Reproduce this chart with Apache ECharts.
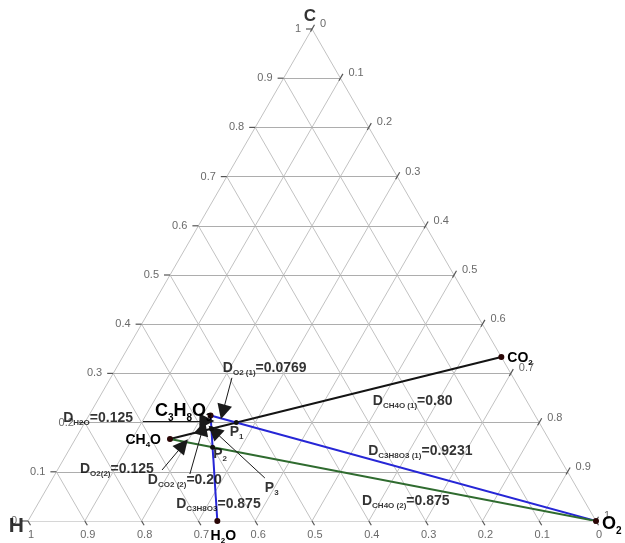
<!DOCTYPE html>
<html>
<head>
<meta charset="utf-8">
<script src="https://cdn.jsdelivr.net/npm/echarts@6/dist/echarts.min.js"></script>
<style>
  html, body { margin: 0; padding: 0; background: #ffffff; }
  #chart { width: 625px; height: 543px; }
</style>
</head>
<body>
<div id="chart"></div>
<script>
// Compounds on the C–H–O diagram, as atom counts per molecule
const species = ['CO2', 'O2', 'H2O', 'C3H8O3', 'CH4O'];
const atomsC = [1, 0, 0, 3, 1];
const atomsH = [0, 0, 2, 8, 4];
const atomsO = [2, 2, 1, 3, 1];

// Tie lines between compounds
const tieFrom = ['CH4O', 'C3H8O3', 'C3H8O3', 'CH4O'];
const tieTo = ['CO2', 'O2', 'H2O', 'O2'];
const tieColor = ['#141414', '#2626d6', '#2626d6', '#2f6b2f'];

// Mixing points, each where two tie lines cross (indices into the tie lines)
const mixNames = ['P1', 'P2', 'P3'];
const mixLineA = [0, 3, 0];
const mixLineB = [1, 2, 2];

// Axis ticks (fractions) and their labels
const tickValues = [0, 0.1, 0.2, 0.3, 0.4, 0.5, 0.6, 0.7, 0.8, 0.9, 1];
const tickLabels = ['0', '0.1', '0.2', '0.3', '0.4', '0.5', '0.6', '0.7', '0.8', '0.9', '1'];

// Annotation texts
const noteTexts = [
  '{m|D}{s|O2 (1)}{m|=0.0769}',
  '{m|D}{s|CH4O (1)}{m|=0.80}',
  '{m|D}{s|H2O}{m|=0.125}',
  '{m|D}{s|O2(2)}{m|=0.125}',
  '{m|D}{s|CO2 (2)}{m|=0.20}',
  '{m|D}{s|C3H8O3}{m|=0.875}',
  '{m|D}{s|C3H8O3 (1)}{m|=0.9231}',
  '{m|D}{s|CH4O (2)}{m|=0.875}',
  '{m|P}{s|1}',
  '{m|P}{s|2}',
  '{m|P}{s|3}'
];
// Where each annotation starts, in diagram coordinates [x, C]
const noteAnchor = [
  [0.343, 0.309], [0.607, 0.242], [0.062, 0.207], [0.0915, 0.104],
  [0.211, 0.081], [0.261, 0.033], [0.599, 0.140], [0.588, 0.039],
  [0.355, 0.179], [0.326, 0.134], [0.417, 0.065]
];
// Leader arrows (tail -> head), diagram coordinates
const arrowTail = [[0.359, 0.291], [0.2025, 0.2033], [0.236, 0.1037], [0.285, 0.0955], [0.417, 0.0874]];
const arrowHead = [[0.343, 0.2215], [0.315, 0.2033], [0.273, 0.1545], [0.308, 0.189], [0.3275, 0.183]];

// ---- ternary helpers: fractions (C, O) -> plane (x, y) ----
function toXY(c, o) { return [o + c / 2, c]; }
function compoundXY(name) {
  const i = species.indexOf(name);
  const n = atomsC[i] + atomsH[i] + atomsO[i];
  return toXY(atomsC[i] / n, atomsO[i] / n);
}
function crossing(a1, a2, b1, b2) {
  const d = (a2[0] - a1[0]) * (b2[1] - b1[1]) - (a2[1] - a1[1]) * (b2[0] - b1[0]);
  const t = ((b1[0] - a1[0]) * (b2[1] - b1[1]) - (b1[1] - a1[1]) * (b2[0] - b1[0])) / d;
  return [a1[0] + t * (a2[0] - a1[0]), a1[1] + t * (a2[1] - a1[1])];
}

const FONT = '"Liberation Sans", Arial, sans-serif';
const levelStyle = { color: '#adadad', width: 1.2, opacity: 1 };

// grid lines of the triangle
const gridSegs = [];
for (let k = 1; k < tickValues.length - 1; k++) {
  const v = tickValues[k];
  gridSegs.push({ coords: [toXY(v, 0), toXY(v, 1 - v)], lineStyle: levelStyle });  // constant C
  gridSegs.push({ coords: [toXY(0, v), toXY(1 - v, v)] });            // constant O
  gridSegs.push({ coords: [toXY(0, 1 - v), toXY(1 - v, 0)] });        // constant H
}
gridSegs.push({ coords: [toXY(0, 0), toXY(0, 1)], lineStyle: levelStyle });  // base H–O
gridSegs.push({ coords: [toXY(0, 1), toXY(1, 0)] });                          // O–C edge
gridSegs.push({ coords: [toXY(1, 0), toXY(0, 0)] });                          // C–H edge

// ticks: side 0 = C (left), 1 = O (right), 2 = H (bottom)
const tickData = [];
tickValues.forEach((v, k) => {
  tickData.push([...toXY(v, 0), 0, k]);
  tickData.push([...toXY(1 - v, v), 1, k]);
  tickData.push([...toXY(0, 1 - v), 2, k]);
});

const tieSegs = tieFrom.map((f, i) => ({
  coords: [compoundXY(f), compoundXY(tieTo[i])],
  lineStyle: { color: tieColor[i], width: 2, opacity: 1 }
}));

const mixPoints = mixNames.map((n, i) => {
  const a = tieSegs[mixLineA[i]].coords, b = tieSegs[mixLineB[i]].coords;
  return { name: n, value: crossing(a[0], a[1], b[0], b[1]) };
});

const rich = {
  m: { fontFamily: FONT, fontWeight: 'bold', fontSize: 14, color: '#000', verticalAlign: 'bottom', padding: [0, 0, 2, 0] },
  s: { fontFamily: FONT, fontWeight: 'bold', fontSize: 8, color: '#000', verticalAlign: 'bottom' },
  L: { fontFamily: FONT, fontWeight: 'bold', fontSize: 18, color: '#000', verticalAlign: 'bottom', padding: [0, 0, 3, 0] },
  Ls: { fontFamily: FONT, fontWeight: 'bold', fontSize: 10, color: '#000', verticalAlign: 'bottom' },
  X: { fontFamily: FONT, fontWeight: 'bold', fontSize: 21, color: '#000' },
  c: { fontFamily: FONT, fontWeight: 'bold', fontSize: 17, color: '#000' }
};

const speciesLabel = {
  CO2: { text: '{m|CO}{s|2}', position: 'right', offset: [1, 2] },
  O2: { text: '{L|O}{Ls|2}', position: 'right', offset: [1, 5] },
  H2O: { text: '{m|H}{s|2}{m|O}', position: 'bottom', offset: [6, 3] },
  C3H8O3: { text: '{L|C}{Ls|3}{L|H}{Ls|8}{L|O}{Ls|3}', position: 'left', offset: [6, -3] },
  CH4O: { text: '{m|CH}{s|4}{m|O}', position: 'left', offset: [-4, 2] }
};

const chart = echarts.init(document.getElementById('chart'), null, { renderer: 'canvas' });
chart.setOption({
  animation: false,
  backgroundColor: '#ffffff',
  grid: { left: 28, right: 29, top: 29, bottom: 22 },
  xAxis: { type: 'value', min: 0, max: 1, show: false },
  yAxis: { type: 'value', min: 0, max: 1, show: false },
  series: [
    {
      type: 'lines', coordinateSystem: 'cartesian2d', silent: true, z: 1,
      lineStyle: { color: '#c2c2c2', width: 1, opacity: 1 },
      data: gridSegs
    },
    {
      type: 'custom', coordinateSystem: 'cartesian2d', silent: true, z: 2,
      data: tickData,
      renderItem: (params, api) => {
        const p = api.coord([api.value(0), api.value(1)]);
        const side = api.value(2);
        const txt = tickLabels[api.value(3)];
        let line, text;
        if (side === 0) {
          line = [p[0] - 6, p[1], p[0], p[1]];
          text = { x: p[0] - 11, y: p[1], align: 'right' };
        } else if (side === 1) {
          line = [p[0] - 1.5, p[1] + 2.6, p[0] + 2.5, p[1] - 4.3];
          text = { x: p[0] + 8, y: p[1] - 5, align: 'left' };
        } else {
          line = [p[0], p[1], p[0] + 2.5, p[1] + 4.3];
          text = { x: p[0] + 3, y: p[1] + 14, align: 'center' };
        }
        return {
          type: 'group',
          children: [
            { type: 'line', shape: { x1: line[0], y1: line[1], x2: line[2], y2: line[3] }, style: { stroke: '#555', lineWidth: 1.2 } },
            { type: 'text', style: { text: txt, x: text.x, y: text.y, align: text.align, verticalAlign: 'middle', fill: '#6a6a6a', font: '11px ' + FONT } }
          ]
        };
      }
    },
    {
      type: 'lines', coordinateSystem: 'cartesian2d', silent: true, z: 3,
      data: tieSegs
    },
    {
      type: 'lines', coordinateSystem: 'cartesian2d', silent: true, z: 4,
      symbol: ['none', 'triangle'], symbolSize: [12, 15],
      lineStyle: { color: '#1a1a1a', width: 1, opacity: 1 },
      itemStyle: { color: '#000', opacity: 1 },
      data: arrowTail.map((t, i) => ({ coords: [t, arrowHead[i]] }))
    },
    {
      type: 'scatter', silent: true, z: 5,
      symbol: 'circle', symbolSize: 6,
      itemStyle: { color: '#2a0606', opacity: 1 },
      data: species.map(n => {
        const sl = speciesLabel[n];
        return {
          name: n, value: compoundXY(n),
          label: { show: true, formatter: sl.text, position: sl.position, offset: sl.offset, distance: 2, rich: rich }
        };
      })
    },
    {
      type: 'scatter', silent: true, z: 5,
      symbol: 'circle', symbolSize: 5,
      itemStyle: { color: '#111', opacity: 1 },
      data: mixPoints
    },
    {
      type: 'scatter', silent: true, z: 6,
      symbolSize: 0,
      label: { show: true, position: 'right', distance: 0, rich: rich, formatter: p => noteTexts[p.dataIndex] },
      data: noteAnchor
    },
    {
      type: 'scatter', silent: true, z: 6,
      symbolSize: 0,
      data: [
        { value: toXY(0, 0), label: { show: true, formatter: '{X|H}', position: 'left', distance: 4, offset: [0, 5], rich: rich } },
        { value: toXY(1, 0), label: { show: true, formatter: '{c|C}', position: 'top', distance: 4, offset: [-2, 0], rich: rich } }
      ]
    }
  ]
});
</script>
</body>
</html>
